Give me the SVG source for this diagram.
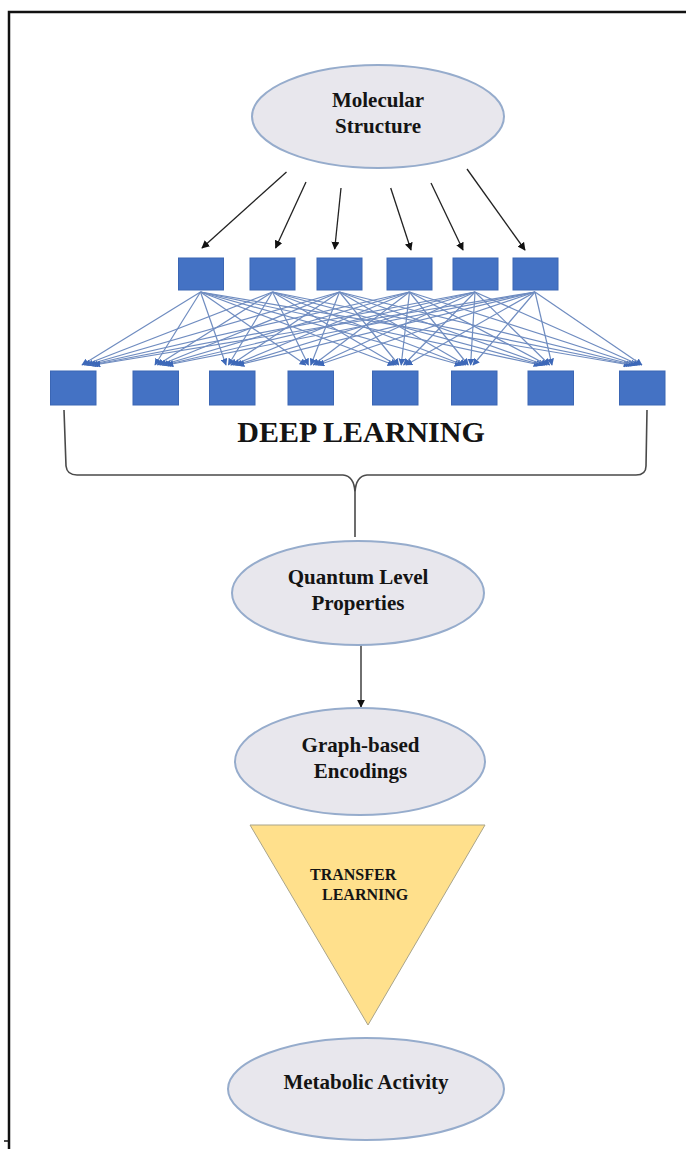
<svg xmlns="http://www.w3.org/2000/svg" width="686" height="1149" viewBox="0 0 686 1149">
<style>
.t{font-family:"Liberation Serif","Times New Roman",serif;font-weight:bold;fill:#141414;text-anchor:middle}
.el{fill:#E8E7ED;stroke:#96ACCC;stroke-width:2}
.bx{fill:#4472C4;stroke:#3B66B4;stroke-width:1}
.k{stroke:#222;stroke-width:1.3;fill:none;marker-end:url(#ak)}
.c{stroke:#6F8CC0;stroke-width:1.2;fill:none;marker-end:url(#ab)}
</style>
<defs>
<marker id="ak" viewBox="0 0 10 10" refX="9" refY="5" markerUnits="userSpaceOnUse" markerWidth="8" markerHeight="8" orient="auto"><path d="M0,0 L10,5 L0,10 z" fill="#111"/></marker>
<marker id="ab" viewBox="0 0 10 10" refX="9" refY="5" markerUnits="userSpaceOnUse" markerWidth="7" markerHeight="7" orient="auto"><path d="M0,0 L10,5 L0,10 z" fill="#3D68B8"/></marker>
</defs>
<rect width="686" height="1149" fill="#fff"/>
<g id="frame" stroke="#111" stroke-width="2.5" fill="none">
<path d="M9,1149 L9,12 L686,12"/>
<path d="M4,1141 L9,1141" stroke-width="1.5"/>
</g>
<g id="connectors">
<line class="k" x1="286.5" y1="172" x2="202" y2="248"/>
<line class="k" x1="306" y1="182" x2="275.6" y2="248"/>
<line class="k" x1="341" y1="188" x2="334.7" y2="249"/>
<line class="k" x1="390.7" y1="188" x2="411" y2="250"/>
<line class="k" x1="431" y1="183" x2="463" y2="250"/>
<line class="k" x1="467" y1="169" x2="525" y2="250"/>
<g id="mesh">
<line class="c" x1="200.5" y1="292" x2="82" y2="365"/>
<line class="c" x1="200.5" y1="292" x2="155" y2="365"/>
<line class="c" x1="200.5" y1="292" x2="226" y2="365"/>
<line class="c" x1="200.5" y1="292" x2="306" y2="365"/>
<line class="c" x1="200.5" y1="292" x2="394" y2="365"/>
<line class="c" x1="200.5" y1="292" x2="461" y2="365"/>
<line class="c" x1="200.5" y1="292" x2="540" y2="365"/>
<line class="c" x1="200.5" y1="292" x2="630" y2="365"/>
<line class="c" x1="272.5" y1="292" x2="84.4" y2="365"/>
<line class="c" x1="272.5" y1="292" x2="157.4" y2="365"/>
<line class="c" x1="272.5" y1="292" x2="228.4" y2="365"/>
<line class="c" x1="272.5" y1="292" x2="308.4" y2="365"/>
<line class="c" x1="272.5" y1="292" x2="396.4" y2="365"/>
<line class="c" x1="272.5" y1="292" x2="463.4" y2="365"/>
<line class="c" x1="272.5" y1="292" x2="542.4" y2="365"/>
<line class="c" x1="272.5" y1="292" x2="632.4" y2="365"/>
<line class="c" x1="339.5" y1="292" x2="86.8" y2="365"/>
<line class="c" x1="339.5" y1="292" x2="159.8" y2="365"/>
<line class="c" x1="339.5" y1="292" x2="230.8" y2="365"/>
<line class="c" x1="339.5" y1="292" x2="310.8" y2="365"/>
<line class="c" x1="339.5" y1="292" x2="398.8" y2="365"/>
<line class="c" x1="339.5" y1="292" x2="465.8" y2="365"/>
<line class="c" x1="339.5" y1="292" x2="544.8" y2="365"/>
<line class="c" x1="339.5" y1="292" x2="634.8" y2="365"/>
<line class="c" x1="409.5" y1="292" x2="89.2" y2="365"/>
<line class="c" x1="409.5" y1="292" x2="162.2" y2="365"/>
<line class="c" x1="409.5" y1="292" x2="233.2" y2="365"/>
<line class="c" x1="409.5" y1="292" x2="313.2" y2="365"/>
<line class="c" x1="409.5" y1="292" x2="401.2" y2="365"/>
<line class="c" x1="409.5" y1="292" x2="468.2" y2="365"/>
<line class="c" x1="409.5" y1="292" x2="547.2" y2="365"/>
<line class="c" x1="409.5" y1="292" x2="637.2" y2="365"/>
<line class="c" x1="475" y1="292" x2="91.6" y2="365"/>
<line class="c" x1="475" y1="292" x2="164.6" y2="365"/>
<line class="c" x1="475" y1="292" x2="235.6" y2="365"/>
<line class="c" x1="475" y1="292" x2="315.6" y2="365"/>
<line class="c" x1="475" y1="292" x2="403.6" y2="365"/>
<line class="c" x1="475" y1="292" x2="470.6" y2="365"/>
<line class="c" x1="475" y1="292" x2="549.6" y2="365"/>
<line class="c" x1="475" y1="292" x2="639.6" y2="365"/>
<line class="c" x1="535" y1="292" x2="94" y2="365"/>
<line class="c" x1="535" y1="292" x2="167" y2="365"/>
<line class="c" x1="535" y1="292" x2="238" y2="365"/>
<line class="c" x1="535" y1="292" x2="318" y2="365"/>
<line class="c" x1="535" y1="292" x2="406" y2="365"/>
<line class="c" x1="535" y1="292" x2="473" y2="365"/>
<line class="c" x1="535" y1="292" x2="552" y2="365"/>
<line class="c" x1="535" y1="292" x2="642" y2="365"/>
</g>
<path id="brace" d="M64,410 L66,466 Q67,475 77,475 L343,475 Q354,476 355,492 L355,537 M355,492 Q356,476 367,475 L636,475 Q646,475 646,466 L647,410" stroke="#4a4a4a" stroke-width="1.6" fill="none"/>
<line class="k" x1="361" y1="645" x2="361" y2="707"/>
</g>
<g id="molecular">
<ellipse class="el" cx="378" cy="116.5" rx="126" ry="51.5"/>
<text class="t" x="378" y="107" font-size="21">Molecular</text>
<text class="t" x="378" y="133" font-size="21">Structure</text>
</g>
<g id="layer1">
<rect class="bx" x="178.5" y="258" width="45" height="32"/>
<rect class="bx" x="250" y="258" width="45" height="32"/>
<rect class="bx" x="317" y="258" width="45" height="32"/>
<rect class="bx" x="387" y="258" width="45" height="32"/>
<rect class="bx" x="453" y="258" width="45" height="32"/>
<rect class="bx" x="513" y="258" width="45" height="32"/>
</g>
<g id="layer2">
<rect class="bx" x="50.5" y="371" width="45.5" height="34"/>
<rect class="bx" x="133" y="371" width="45.5" height="34"/>
<rect class="bx" x="209.5" y="371" width="45.5" height="34"/>
<rect class="bx" x="288" y="371" width="45.5" height="34"/>
<rect class="bx" x="372.5" y="371" width="45.5" height="34"/>
<rect class="bx" x="451.5" y="371" width="45.5" height="34"/>
<rect class="bx" x="528" y="371" width="45.5" height="34"/>
<rect class="bx" x="619.5" y="371" width="45.5" height="34"/>
</g>
<g id="deep-learning">
<text class="t" x="361" y="442" font-size="30">DEEP LEARNING</text>
</g>
<g id="quantum">
<ellipse class="el" cx="358" cy="593" rx="126" ry="52"/>
<text class="t" x="358" y="584" font-size="21">Quantum Level</text>
<text class="t" x="358" y="610" font-size="21">Properties</text>
</g>
<g id="graph">
<ellipse class="el" cx="360" cy="761.5" rx="125" ry="53.5"/>
<text class="t" x="360.5" y="752" font-size="21">Graph-based</text>
<text class="t" x="360.5" y="778" font-size="21">Encodings</text>
</g>
<g id="transfer">
<polygon points="250,825 485,825 368,1025" fill="#FFE08C" stroke="#A9A48A" stroke-width="1"/>
<text class="t" x="310" y="880" font-size="16" style="text-anchor:start">TRANSFER</text>
<text class="t" x="322" y="900" font-size="16" style="text-anchor:start">LEARNING</text>
</g>
<g id="metabolic">
<ellipse class="el" cx="366" cy="1089" rx="138" ry="51"/>
<text class="t" x="366" y="1089" font-size="21">Metabolic Activity</text>
</g>
</svg>
